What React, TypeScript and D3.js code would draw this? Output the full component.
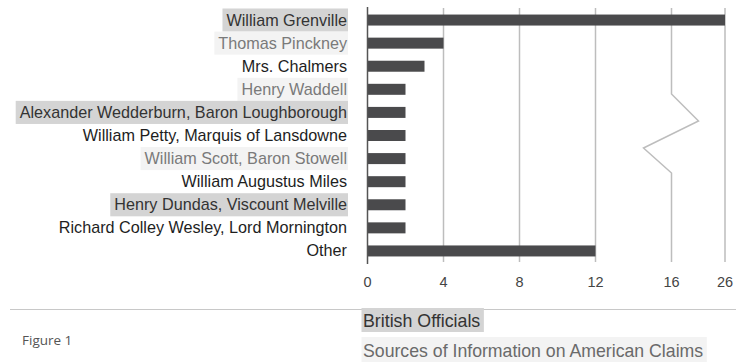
import React, { useEffect, useRef } from "react";
import * as d3 from "d3";

const categories = [
  "William Grenville",
  "Thomas Pinckney",
  "Mrs. Chalmers",
  "Henry Waddell",
  "Alexander Wedderburn, Baron Loughborough",
  "William Petty, Marquis of Lansdowne",
  "William Scott, Baron Stowell",
  "William Augustus Miles",
  "Henry Dundas, Viscount Melville",
  "Richard Colley Wesley, Lord Mornington",
  "Other",
];
const values = [26, 4, 3, 2, 2, 2, 2, 2, 2, 2, 12];
// label highlight style: "dark" = grey band, "light" = pale band, "none"
const labelStyles = ["dark", "light", "none", "light", "dark", "none", "light", "none", "dark", "none", "none"];
const tickValues = [0, 4, 8, 12, 16, 26];
const breakValue = 16;
const titleText = "British Officials";
const subtitleText = "Sources of Information on American Claims";
const figureText = "Figure 1";

export default function App() {
  const ref = useRef<SVGSVGElement>(null);
  useEffect(() => {
    const svg = d3.select(ref.current);
    svg.selectAll("*").remove();
    const W = 746, H = 362;
    const top = 8, bottom = 262;
    const x = d3.scaleLinear().domain([0, 16, 26]).range([367.5, 671.5, 725]);
    const y = d3.scaleBand().domain(categories).range([top, bottom]).padding(0);
    const barH = 11;
    const font = "'Liberation Sans', Arial, Helvetica, sans-serif";

    svg.append("rect").attr("width", W).attr("height", H).attr("fill", "#fff");

    // grid lines (except 0 and break value)
    const g = svg.append("g");
    tickValues.filter((t) => t !== 0 && t !== breakValue).forEach((t) => {
      g.append("line")
        .attr("x1", x(t)).attr("x2", x(t))
        .attr("y1", top).attr("y2", bottom)
        .attr("stroke", "#bdbdbd").attr("stroke-width", 1.5);
    });
    // break line with zigzag
    const xb = x(breakValue);
    const zig: [number, number][] = [
      [xb, top], [xb, 94], [xb + 27, 121], [xb - 28, 148], [xb, 173], [xb, bottom],
    ];
    g.append("path")
      .attr("d", d3.line()(zig))
      .attr("fill", "none").attr("stroke", "#bdbdbd").attr("stroke-width", 1.5);

    // bars
    svg.append("g").selectAll("rect").data(values).join("rect")
      .attr("x", x(0))
      .attr("y", (_, i) => (y(categories[i]) as number) + y.bandwidth() / 2 - barH / 2 + 0.5)
      .attr("width", (d) => x(d) - x(0))
      .attr("height", barH)
      .attr("fill", "#4a4a4c");

    // axis line
    svg.append("line")
      .attr("x1", x(0)).attr("x2", x(0))
      .attr("y1", top - 1).attr("y2", bottom + 2)
      .attr("stroke", "#555").attr("stroke-width", 1.5);

    // tick labels
    svg.append("g").selectAll("text").data(tickValues).join("text")
      .attr("x", (d) => x(d)).attr("y", 287)
      .attr("text-anchor", "middle")
      .attr("font-family", font).attr("font-size", 14.5)
      .attr("fill", "#444")
      .text((d) => String(d));

    // category labels with highlight bands
    const lg = svg.append("g");
    categories.forEach((c, i) => {
      const cy = (y(c) as number) + y.bandwidth() / 2;
      const st = labelStyles[i];
      const bg = lg.append("rect");
      const t = lg.append("text")
        .attr("x", 347).attr("y", cy + 6)
        .attr("text-anchor", "end")
        .attr("font-family", font).attr("font-size", 16.2)
        .attr("fill", st === "light" ? "#7a7a7a" : st === "dark" ? "#333" : "#1e1e1e")
        .text(c);
      const bb = (t.node() as SVGTextElement).getBBox();
      if (st !== "none") {
        bg.attr("x", bb.x - 4).attr("y", (y(c) as number) + 0.5)
          .attr("width", 348 - (bb.x - 4)).attr("height", y.bandwidth())
          .attr("fill", st === "dark" ? "#d4d4d4" : "#f3f3f3");
      } else bg.remove();
    });

    // footer rule
    svg.append("line")
      .attr("x1", 10).attr("x2", 736).attr("y1", 309.5).attr("y2", 309.5)
      .attr("stroke", "#c8c8c8").attr("stroke-width", 1);

    svg.append("text")
      .attr("x", 22).attr("y", 345)
      .attr("font-family", "'Open Sans', 'Noto Sans', sans-serif").attr("font-size", 13.5)
      .attr("fill", "#555").text(figureText);

    const tb = svg.append("rect");
    const tt = svg.append("text")
      .attr("x", 363).attr("y", 327)
      .attr("font-family", font).attr("font-size", 17.8)
      .attr("fill", "#333").text(titleText);
    const tbb = (tt.node() as SVGTextElement).getBBox();
    tb.attr("x", 361.5).attr("y", 308).attr("width", tbb.width + 5).attr("height", 24).attr("fill", "#d4d4d4");

    const sb = svg.append("rect");
    const stx = svg.append("text")
      .attr("x", 363).attr("y", 357)
      .attr("font-family", font).attr("font-size", 17.7)
      .attr("fill", "#6a6a6a").text(subtitleText);
    const sbb = (stx.node() as SVGTextElement).getBBox();
    sb.attr("x", 361.5).attr("y", 337).attr("width", sbb.width + 5).attr("height", 26).attr("fill", "#f3f3f3");
  }, []);
  return (
    <svg
      ref={ref}
      width={746}
      height={362}
      style={{ position: "absolute", left: 0, top: 0, display: "block" }}
    />
  );
}
